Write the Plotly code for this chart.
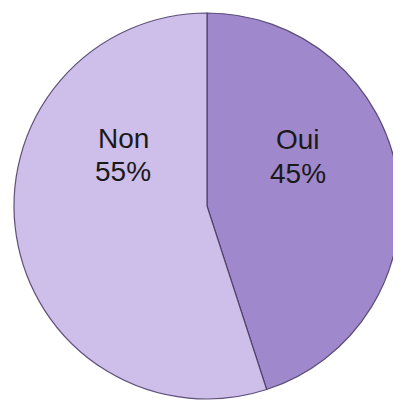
import plotly.graph_objects as go

labels = ["Oui", "Non"]
values = [45, 55]
colors = ["#a088cc", "#cdbfe9"]

# page body adds an 8px margin; figure sized to fit the window
W, H = 393, 395
cx, cy, r = 199, 198, 193  # pixels from figure top-left

fig = go.Figure()
fig.add_trace(go.Pie(
    labels=labels,
    values=values,
    sort=False,
    direction="clockwise",
    rotation=0,
    textinfo="none",
    hoverinfo="label+percent",
    marker=dict(colors=colors, line=dict(color="rgba(70,55,100,0.85)", width=1.2)),
    domain=dict(x=[(cx - r) / W, (cx + r) / W],
                y=[(H - cy - r) / H, (H - cy + r) / H]),
    showlegend=False,
))

total = sum(values)
label_pos = {"Oui": (290, 131, 165), "Non": (115, 130, 163)}
for lab, val in zip(labels, values):
    x, y1, y2 = label_pos[lab]
    for txt, y in ((lab, y1), (f"{round(100 * val / total)}%", y2)):
        fig.add_annotation(
            x=x / W, y=1 - y / H, xref="paper", yref="paper",
            text=txt, showarrow=False, xanchor="center", yanchor="middle",
            font=dict(family="Liberation Sans, Arial, sans-serif", size=28, color="#1a1a1a"),
        )

fig.update_layout(
    width=W, height=H,
    margin=dict(l=0, r=0, t=0, b=0),
    paper_bgcolor="white",
    plot_bgcolor="white",
)

fig.write_html("out.html")
